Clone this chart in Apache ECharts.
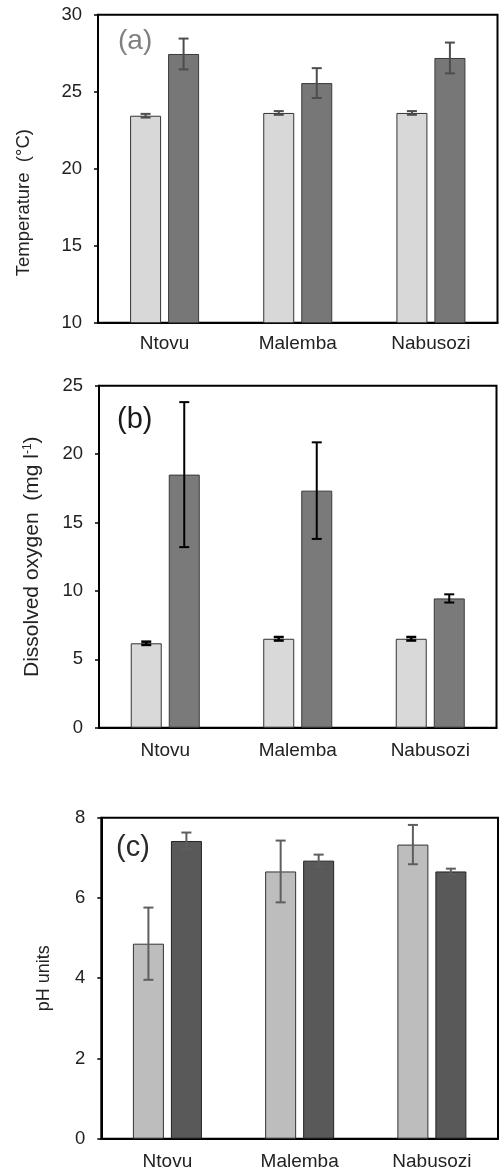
<!DOCTYPE html>
<html>
<head>
<meta charset="utf-8">
<script src="https://cdn.jsdelivr.net/npm/echarts@6/dist/echarts.min.js"></script>
<style>
  html, body { margin: 0; padding: 0; background: #fff; }
  #chart { width: 499px; height: 1173px; }
</style>
</head>
<body>
<div id="chart"></div>
<script>
// ---- data ----
const categories = ['Ntovu', 'Malemba', 'Nabusozi'];

const tempLow = [23.44, 23.62, 23.62];
const tempLowErr = [0.12, 0.12, 0.12];
const tempHigh = [27.45, 25.56, 27.19];
const tempHighErr = [1.0, 0.97, 1.0];

const doLow = [6.17, 6.5, 6.5];
const doLowErr = [0.12, 0.13, 0.13];
const doHigh = [18.5, 17.33, 9.45];
const doHighErr = [5.3, 3.53, 0.3];

const phLow = [4.86, 6.66, 7.33];
const phLowErr = [0.9, 0.77, 0.49];
const phHigh = [7.42, 6.93, 6.66];
const phHighErr = [0.21, 0.15, 0.07];

const panelLabels = ['(a)', '(b)', '(c)'];

// ---- styling ----
const FONT = 'Liberation Sans, Arial, Helvetica, sans-serif';
const BAR_W = 31;
const BAR_GAP_PX = 7;
const OFFSET = (BAR_W + BAR_GAP_PX) / 2;
const CAP = 10;

function errSeries(gi, vals, errs, side, color, width) {
  return {
    type: 'custom',
    xAxisIndex: gi,
    yAxisIndex: gi,
    silent: true,
    z: 10,
    data: vals.map((v, i) => [i, v, errs[i]]),
    renderItem: function (params, api) {
      const i = api.value(0), v = api.value(1), e = api.value(2);
      const hi = api.coord([i, v + e]);
      const lo = api.coord([i, v - e]);
      const x = hi[0] + side * OFFSET;
      const st = { stroke: color, lineWidth: width, fill: null };
      return {
        type: 'group',
        children: [
          { type: 'line', shape: { x1: x, y1: hi[1], x2: x, y2: lo[1] }, style: st },
          { type: 'line', shape: { x1: x - CAP / 2, y1: hi[1], x2: x + CAP / 2, y2: hi[1] }, style: st },
          { type: 'line', shape: { x1: x - CAP / 2, y1: lo[1], x2: x + CAP / 2, y2: lo[1] }, style: st }
        ]
      };
    }
  };
}

function barSeries(gi, vals, color, border) {
  return {
    type: 'bar',
    xAxisIndex: gi,
    yAxisIndex: gi,
    data: vals,
    barWidth: BAR_W,
    barGap: (BAR_GAP_PX / BAR_W * 100).toFixed(1) + '%',
    silent: true,
    itemStyle: { color: color, borderColor: border, borderWidth: 1 }
  };
}

function xAxis(gi, margin) {
  return {
    gridIndex: gi,
    type: 'category',
    data: categories,
    axisLine: { show: true, lineStyle: { color: '#000', width: 2 } },
    axisTick: { show: false },
    axisLabel: { fontSize: 19, margin: margin, color: '#222', fontFamily: FONT },
    splitLine: { show: false }
  };
}

function yAxis(gi, min, max, interval, name, nameGap, nameStyle) {
  return {
    gridIndex: gi,
    type: 'value',
    min: min, max: max, interval: interval,
    axisLine: { show: true, lineStyle: { color: '#000', width: 2 } },
    axisTick: { show: true, inside: false, length: 4, lineStyle: { color: '#000', width: 1.5 } },
    splitLine: { show: false },
    axisLabel: { fontSize: 18.5, margin: 16, color: '#222', fontFamily: FONT },
    name: name,
    nameLocation: 'middle',
    nameRotate: 90,
    nameGap: nameGap,
    nameTextStyle: Object.assign({ color: '#222', fontFamily: FONT }, nameStyle)
  };
}

const option = {
  animation: false,
  backgroundColor: '#fff',
  title: [
    { text: panelLabels[0], left: 118, top: 27, padding: 0, textStyle: { fontSize: 28, fontWeight: 'normal', color: '#808080', fontFamily: FONT } },
    { text: panelLabels[1], left: 117, top: 405, padding: 0, textStyle: { fontSize: 29, fontWeight: 'normal', color: '#1a1a1a', fontFamily: FONT } },
    { text: panelLabels[2], left: 116, top: 833, padding: 0, textStyle: { fontSize: 29, fontWeight: 'normal', color: '#2a2a2a', fontFamily: FONT } }
  ],
  grid: [
    { left: 98, right: 1.5, top: 14.7, height: 308, show: true, borderColor: '#000', borderWidth: 2, containLabel: false, outerBoundsMode: 'none' },
    { left: 99, right: 2.5, top: 385.7, height: 342, show: true, borderColor: '#000', borderWidth: 2, containLabel: false, outerBoundsMode: 'none' },
    { left: 101.3, right: 1, top: 817.7, height: 321, show: true, borderColor: '#000', borderWidth: 2, containLabel: false, outerBoundsMode: 'none' }
  ],
  xAxis: [xAxis(0, 12), xAxis(1, 14), xAxis(2, 14)],
  yAxis: [
    yAxis(0, 10, 30, 5, 'Temperature  (\u00B0C)', 65, { fontSize: 18.5, padding: [0, 68, 0, 0] }),
    yAxis(1, 0, 25, 5, 'Dissolved oxygen  (mg l{sup|-1})', 56, {
      fontSize: 21,
      rich: { sup: { fontSize: 12, verticalAlign: 'top', color: '#222', fontFamily: FONT, lineHeight: 21 } }
    }),
    yAxis(2, 0, 8, 2, 'pH units', 48, { fontSize: 18 })
  ],
  series: [
    barSeries(0, tempLow, '#d8d8d8', '#333'),
    barSeries(0, tempHigh, '#777777', '#3a3a3a'),
    errSeries(0, tempLow, tempLowErr, -1, '#4d4d4d', 2),
    errSeries(0, tempHigh, tempHighErr, 1, '#4d4d4d', 2),

    barSeries(1, doLow, '#d9d9d9', '#333'),
    barSeries(1, doHigh, '#7a7a7a', '#3a3a3a'),
    errSeries(1, doLow, doLowErr, -1, '#000', 2.5),
    errSeries(1, doHigh, doHighErr, 1, '#000', 2),

    barSeries(2, phLow, '#bdbdbd', '#333'),
    barSeries(2, phHigh, '#595959', '#222'),
    errSeries(2, phLow, phLowErr, -1, '#5e5e5e', 2),
    errSeries(2, phHigh, phHighErr, 1, '#5e5e5e', 2)
  ]
};

const chart = echarts.init(document.getElementById('chart'), null, { renderer: 'canvas' });
chart.setOption(option);
</script>
</body>
</html>
